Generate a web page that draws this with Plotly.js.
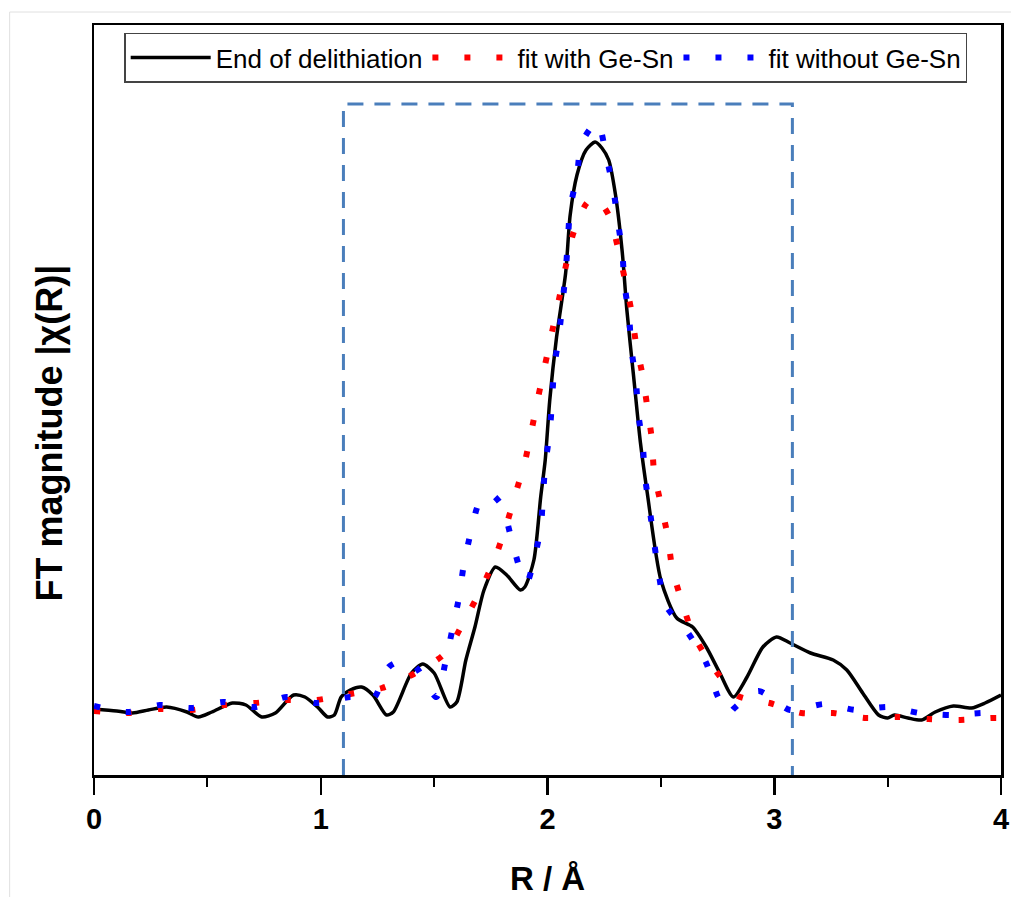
<!DOCTYPE html>
<html>
<head>
<meta charset="utf-8">
<script src="https://cdn.plot.ly/plotly-3.0.1.min.js"></script>
<style>html,body{margin:0;padding:0;background:#fff;}#chart{width:1011px;height:897px;}</style>
</head>
<body>
<div id="chart"></div>
<script>
// ---- data ----
var expR = [0.00,0.10,0.17,0.24,0.32,0.41,0.46,0.52,0.61,0.67,0.74,0.80,0.88,0.93,0.99,1.03,1.06,1.09,1.13,1.18,1.23,1.29,1.32,1.40,1.45,1.50,1.57,1.60,1.64,1.68,1.72,1.77,1.82,1.88,1.90,1.94,1.97,1.99,2.01,2.04,2.08,2.10,2.13,2.17,2.21,2.24,2.27,2.30,2.33,2.35,2.38,2.41,2.44,2.50,2.57,2.64,2.70,2.76,2.82,2.88,2.95,3.01,3.07,3.16,3.26,3.32,3.39,3.46,3.50,3.53,3.59,3.65,3.71,3.79,3.87,3.93,4.00];
var expChi = [0.66,0.64,0.62,0.65,0.68,0.63,0.58,0.63,0.72,0.70,0.58,0.62,0.80,0.78,0.67,0.58,0.60,0.78,0.85,0.88,0.80,0.60,0.63,1.02,1.11,1.02,0.68,0.73,1.15,1.48,1.85,2.08,2.00,1.85,1.88,2.15,2.78,3.15,3.75,4.38,5.02,5.60,6.00,6.25,6.33,6.27,6.15,5.80,5.22,4.65,3.98,3.32,2.82,1.95,1.57,1.48,1.28,1.02,0.78,0.98,1.28,1.38,1.32,1.22,1.15,1.05,0.82,0.60,0.57,0.60,0.57,0.55,0.63,0.69,0.67,0.72,0.80];

var withR = [0.00,0.15,0.29,0.43,0.57,0.71,0.85,0.98,1.13,1.27,1.41,1.55,1.63,1.71,1.77,1.82,1.86,1.90,1.93,1.96,1.99,2.02,2.05,2.08,2.11,2.17,2.21,2.27,2.31,2.34,2.37,2.39,2.42,2.44,2.46,2.47,2.50,2.53,2.55,2.59,2.64,2.72,2.84,2.98,3.12,3.26,3.40,3.54,3.68,3.82,3.96,4.00];
var withChi = [0.64,0.62,0.66,0.65,0.70,0.72,0.75,0.75,0.81,0.87,1.01,1.22,1.53,1.87,2.18,2.51,2.82,3.13,3.45,3.79,4.11,4.43,4.75,5.08,5.39,5.71,5.78,5.60,5.28,4.97,4.64,4.32,3.99,3.68,3.36,3.03,2.71,2.39,2.07,1.75,1.42,1.11,0.79,0.72,0.62,0.62,0.57,0.58,0.56,0.55,0.57,0.57];

var withoutR = [0.00,0.15,0.29,0.43,0.57,0.71,0.85,0.98,1.13,1.23,1.30,1.37,1.42,1.51,1.55,1.58,1.61,1.63,1.66,1.70,1.75,1.80,1.84,1.88,1.91,1.94,1.97,1.98,1.99,2.01,2.02,2.03,2.05,2.08,2.09,2.10,2.13,2.15,2.22,2.26,2.29,2.31,2.33,2.34,2.36,2.37,2.39,2.40,2.42,2.43,2.45,2.47,2.49,2.52,2.62,2.70,2.75,2.80,2.82,2.93,3.07,3.22,3.36,3.50,3.64,3.78,3.92,4.00];
var withoutChi = [0.69,0.63,0.70,0.67,0.73,0.68,0.78,0.72,0.78,0.76,1.08,1.15,1.08,0.78,1.13,1.45,1.78,2.09,2.41,2.73,2.81,2.69,2.37,2.05,1.93,2.15,2.47,2.78,3.10,3.43,3.75,4.08,4.39,5.03,5.35,5.67,5.99,6.32,6.53,6.18,5.86,5.54,5.22,4.90,4.58,4.26,3.94,3.62,3.30,2.98,2.67,2.33,2.02,1.70,1.42,1.12,0.79,0.61,0.66,0.84,0.65,0.71,0.65,0.68,0.62,0.60,0.62,0.61];

var seriesNames = ['End of delithiation', 'fit with Ge-Sn', 'fit without Ge-Sn'];
var xTickVals = [0, 1, 2, 3, 4];
var xTickText = ['0', '1', '2', '3', '4'];
var xTitle = 'R / Å';
var yTitle = 'FT magnitude |χ(R)|';
// fit window (R range) and height of the dashed frame
var windowStart = 1.10, windowEnd = 3.08, windowTop = 6.71;

var FONT = 'Liberation Sans, Arial, sans-serif';

var traces = [
  {x: expR, y: expChi, name: seriesNames[0], mode: 'lines', type: 'scatter',
   line: {color: '#000000', width: 3.5, shape: 'spline', smoothing: 0.7}},
  {x: withR, y: withChi, name: seriesNames[1], mode: 'lines', type: 'scatter',
   line: {color: '#ff0000', width: 6, dash: '6px,26px', shape: 'spline', smoothing: 0.7}},
  {x: withoutR, y: withoutChi, name: seriesNames[2], mode: 'lines', type: 'scatter',
   line: {color: '#0000ff', width: 6, dash: '6px,26px', shape: 'spline', smoothing: 0.7}}
];

var layout = {
  width: 1011, height: 897,
  margin: {l: 94, r: 10, t: 25, b: 122},
  paper_bgcolor: '#ffffff', plot_bgcolor: '#ffffff',
  font: {family: FONT, color: '#000'},
  showlegend: true,
  legend: {orientation: 'h', x: 0.498, xanchor: 'center', y: 0.99, yanchor: 'top',
    bordercolor: '#444', borderwidth: 1.5, bgcolor: '#ffffff',
    font: {family: FONT, size: 26, color: '#000'}, itemwidth: 80, tracegroupgap: 0},
  xaxis: {
    range: [0, 4], tickvals: xTickVals, ticktext: xTickText,
    showline: true, linecolor: '#000', linewidth: 2.5, mirror: true,
    ticks: 'outside', ticklen: 17, tickwidth: 2.5, tickcolor: '#000',
    ticklabeloverflow: 'allow',
    minor: {dtick: 0.5, tick0: 0.5, ticks: 'outside', ticklen: 9, tickwidth: 2, tickcolor: '#000', showgrid: false},
    showgrid: false, zeroline: false,
    tickfont: {family: FONT, size: 29, weight: 'bold', color: '#000'},
    title: {text: xTitle, font: {family: FONT, size: 33, weight: 'bold', color: '#000'}, standoff: 34}
  },
  yaxis: {
    range: [0, 7.5], showticklabels: false, ticks: '',
    showline: true, linecolor: '#000', linewidth: 2.5, mirror: true,
    showgrid: false, zeroline: false
  },
  annotations: [
    {text: yTitle, xref: 'paper', yref: 'paper', x: -0.048, y: 0.456,
     xanchor: 'center', yanchor: 'middle', textangle: -90, showarrow: false,
     font: {family: FONT, size: 36, weight: 'bold', color: '#000'}}
  ],
  shapes: [
    {type: 'path', xref: 'x', yref: 'y',
     path: 'M ' + windowStart + ',0 L ' + windowStart + ',' + windowTop + ' L ' + windowEnd + ',' + windowTop + ' L ' + windowEnd + ',0',
     line: {color: '#4a7ebb', width: 3, dash: '16px,11px'}},
    {type: 'line', xref: 'paper', yref: 'paper', x0: -0.093, x1: -0.093, y0: -0.2, y1: 1.0173,
     line: {color: '#e0e0e0', width: 1}},
    {type: 'line', xref: 'paper', yref: 'paper', x0: -0.093, x1: 1.02, y0: 1.0173, y1: 1.0173,
     line: {color: '#e0e0e0', width: 1}}
  ]
};

Plotly.newPlot('chart', traces, layout, {displayModeBar: false, staticPlot: true});
</script>
</body>
</html>
